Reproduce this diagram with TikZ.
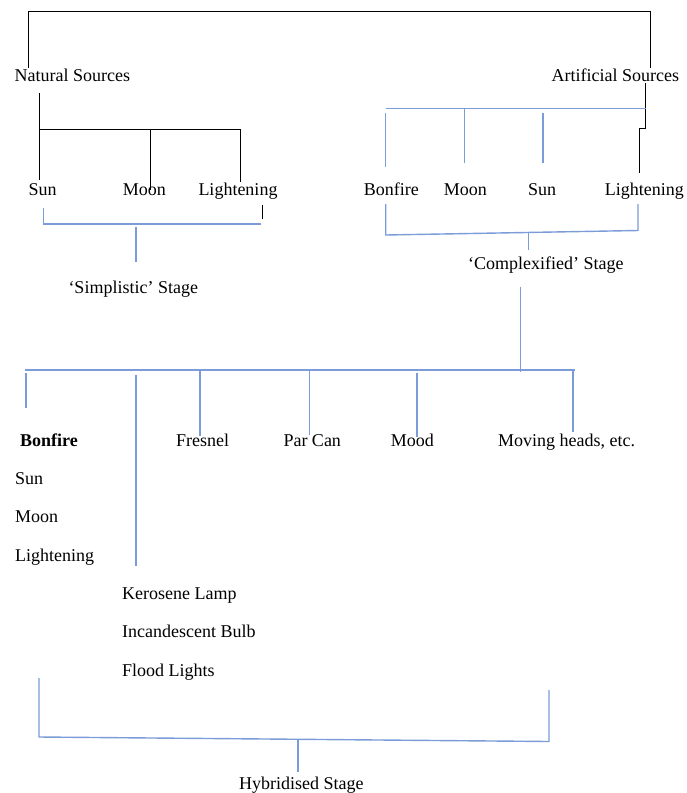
\documentclass[tikz,border=0pt]{standalone}
\usepackage{fontspec}
\setmainfont{Liberation Serif}
\definecolor{lblue}{HTML}{7B9CD8}
\begin{document}
\begin{tikzpicture}[x=1pt,y=-1pt,
  lbl/.style={anchor=base west,inner sep=0pt,font=\fontsize{18}{20}\selectfont},
  blk/.style={draw=black,line width=0.9pt},
  blu/.style={draw=lblue,line width=1.4pt}]
\useasboundingbox[fill=white] (0,0) rectangle (686,793);
% texts
\node[lbl] (nat) at (14.5,81) {Natural Sources};
\node[lbl] (art) at (551.5,81) {Artificial Sources};
\node[lbl] (nsun) at (28.3,195) {Sun};
\node[lbl] (nmoon) at (122.7,195) {Moon};
\node[lbl] (nlig) at (198.3,195) {Lightening};
\node[lbl] (simp) at (68.3,293.3) {‘Simplistic’ Stage};
\node[lbl] (abon) at (363.7,195) {Bonfire};
\node[lbl] (amoon) at (443.7,195) {Moon};
\node[lbl] (asun) at (528,195) {Sun};
\node[lbl] (alig) at (604.7,195) {Lightening};
\node[lbl] (comp) at (468,269.3) {‘Complexified’ Stage};
\node[lbl,font=\fontsize{18}{20}\selectfont\bfseries] (hbon) at (20,446) {Bonfire};
\node[lbl] (hsun) at (15,484.3) {Sun};
\node[lbl] (hmoon) at (15,522.7) {Moon};
\node[lbl] (hlig) at (15,561) {Lightening};
\node[lbl] (fres) at (176,446) {Fresnel};
\node[lbl] (par) at (283.3,446) {Par Can};
\node[lbl] (mood) at (390.7,446) {Mood};
\node[lbl] (mov) at (498,446) {Moving heads, etc.};
\node[lbl] (ker) at (122,599.3) {Kerosene Lamp};
\node[lbl] (inc) at (122,637.6) {Incandescent Bulb};
\node[lbl] (flood) at (122,676) {Flood Lights};
\node[lbl] (hyb) at (239,789) {Hybridised Stage};
% coordinates
\coordinate (tl) at (28,11);
\coordinate (tlb) at (28,68);
\coordinate (tr) at (650.3,11);
\coordinate (trb) at (650.3,68);
\coordinate (nj) at (39.3,93);
\coordinate (nsunt) at (39.3,180);
\coordinate (nh1) at (39.3,129);
\coordinate (nh2) at (240.7,129);
\coordinate (nmoonj) at (150.7,129);
\coordinate (nmoont) at (150.7,190);
\coordinate (nligt) at (240.7,182);
\coordinate (tk1) at (262.3,205);
\coordinate (tk2) at (262.3,219);
\coordinate (sb1) at (43.3,208);
\coordinate (sb2) at (43.3,224);
\coordinate (sb3) at (261,224);
\coordinate (sbc1) at (136,227);
\coordinate (sbc2) at (136,262);
% right black
\coordinate (aj) at (645.7,83);
\coordinate (aj2) at (645.7,128);
\coordinate (aj3) at (639.7,128);
\coordinate (aligt) at (639.7,173);
% right blue
\coordinate (ah1) at (385.7,108.3);
\coordinate (ah2) at (645.7,108.3);
\coordinate (abont1) at (385.7,113);
\coordinate (abont2) at (385.7,167);
\coordinate (amoonj) at (464.7,108.3);
\coordinate (amoont) at (464.7,163);
\coordinate (asunt1) at (543,113);
\coordinate (asunt2) at (543,163);
\coordinate (cb1) at (385.7,204);
\coordinate (cb2) at (385.7,235);
\coordinate (cb3) at (638,230.5);
\coordinate (cb4) at (638,204);
\coordinate (cbc1) at (528.3,233);
\coordinate (cbc2) at (528.3,250);
\coordinate (cd1) at (520.7,287);
\coordinate (cd2) at (520.7,371.7);
% hybrid level
\coordinate (hh1) at (25,370);
\coordinate (hh2) at (575.3,370);
\coordinate (hb1) at (26,373);
\coordinate (hb2) at (26,408);
\coordinate (hk1) at (136,375);
\coordinate (hk2) at (136,566);
\coordinate (hf1) at (200,370);
\coordinate (hf2) at (200,436);
\coordinate (hp1) at (309.3,370);
\coordinate (hp2) at (309.3,435);
\coordinate (hm1) at (417,372.7);
\coordinate (hm2) at (417,436.7);
\coordinate (hv1) at (573,370);
\coordinate (hv2) at (573,431.7);
\coordinate (yb1) at (39,678);
\coordinate (yb2) at (39,737);
\coordinate (yb3) at (549,741.5);
\coordinate (yb4) at (549,690);
\coordinate (ybc1) at (298,739);
\coordinate (ybc2) at (298,771.7);
% black connectors
\draw[blk] (tlb) -- (tl) -- (tr) -- (trb);
\draw[blk] (nj) -- (nsunt);
\draw[blk] (nh1) -- (nh2) -- (nligt);
\draw[blk] (nmoonj) -- (nmoont);
\draw[blk] (tk1) -- (tk2);
\draw[blk] (aj) -- (aj2) -- (aj3) -- (aligt);
% blue connectors
\draw[blu] (sb1) -- (sb2) -- (sb3);
\draw[blu] (sbc1) -- (sbc2);
\draw[blu] (ah1) -- (ah2);
\draw[blu] (abont1) -- (abont2);
\draw[blu] (amoonj) -- (amoont);
\draw[blu] (asunt1) -- (asunt2);
\draw[blu] (cb1) -- (cb2) -- (cb3) -- (cb4);
\draw[blu] (cbc1) -- (cbc2);
\draw[blu] (cd1) -- (cd2);
\draw[blu] (hh1) -- (hh2);
\draw[blu] (hb1) -- (hb2);
\draw[blu] (hk1) -- (hk2);
\draw[blu] (hf1) -- (hf2);
\draw[blu] (hp1) -- (hp2);
\draw[blu] (hm1) -- (hm2);
\draw[blu] (hv1) -- (hv2);
\draw[blu] (yb1) -- (yb2) -- (yb3) -- (yb4);
\draw[blu] (ybc1) -- (ybc2);
\end{tikzpicture}
\end{document}
